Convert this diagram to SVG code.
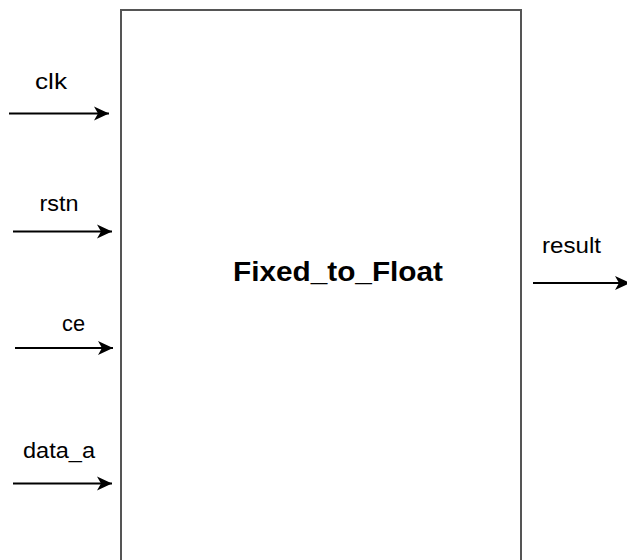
<svg xmlns="http://www.w3.org/2000/svg" width="627" height="560" viewBox="0 0 627 560">
<defs>
<style>
.lbl{font-family:"Liberation Sans",Arial,sans-serif;font-size:22px;fill:#000;text-anchor:middle}
.title{font-family:"Liberation Sans",Arial,sans-serif;font-size:27px;font-weight:bold;fill:#000;text-anchor:middle}
.wire{stroke:#000;stroke-width:2;fill:none;marker-end:url(#arr)}
.box{fill:#fff;stroke:#555;stroke-width:2}
</style>
<marker id="arr" viewBox="0 0 16 16" refX="15" refY="8" markerWidth="16" markerHeight="16" markerUnits="userSpaceOnUse" orient="auto">
<path d="M0,1 L15,8 L0,15 L4,8 Z" fill="#000"/>
</marker>
</defs>
<rect width="627" height="560" fill="#fff"/>
<g id="block">
<rect class="box" x="121" y="10" width="400" height="570"/>
<text class="title" x="338" y="281" textLength="210" lengthAdjust="spacingAndGlyphs">Fixed_to_Float</text>
</g>
<g id="connectors">
<path class="wire" d="M9,113.5 H109"/>
<path class="wire" d="M13,231.5 H112"/>
<path class="wire" d="M15,348 H113"/>
<path class="wire" d="M13,483.5 H112"/>
<path class="wire" d="M533,283 H630"/>
</g>
<g id="labels">
<text class="lbl" x="51" y="89" textLength="32" lengthAdjust="spacingAndGlyphs">clk</text>
<text class="lbl" x="59" y="211" textLength="39" lengthAdjust="spacingAndGlyphs">rstn</text>
<text class="lbl" x="73.5" y="331" textLength="23" lengthAdjust="spacingAndGlyphs">ce</text>
<text class="lbl" x="59" y="458" textLength="72" lengthAdjust="spacingAndGlyphs">data_a</text>
<text class="lbl" x="571.5" y="253" textLength="59" lengthAdjust="spacingAndGlyphs">result</text>
</g>
</svg>
